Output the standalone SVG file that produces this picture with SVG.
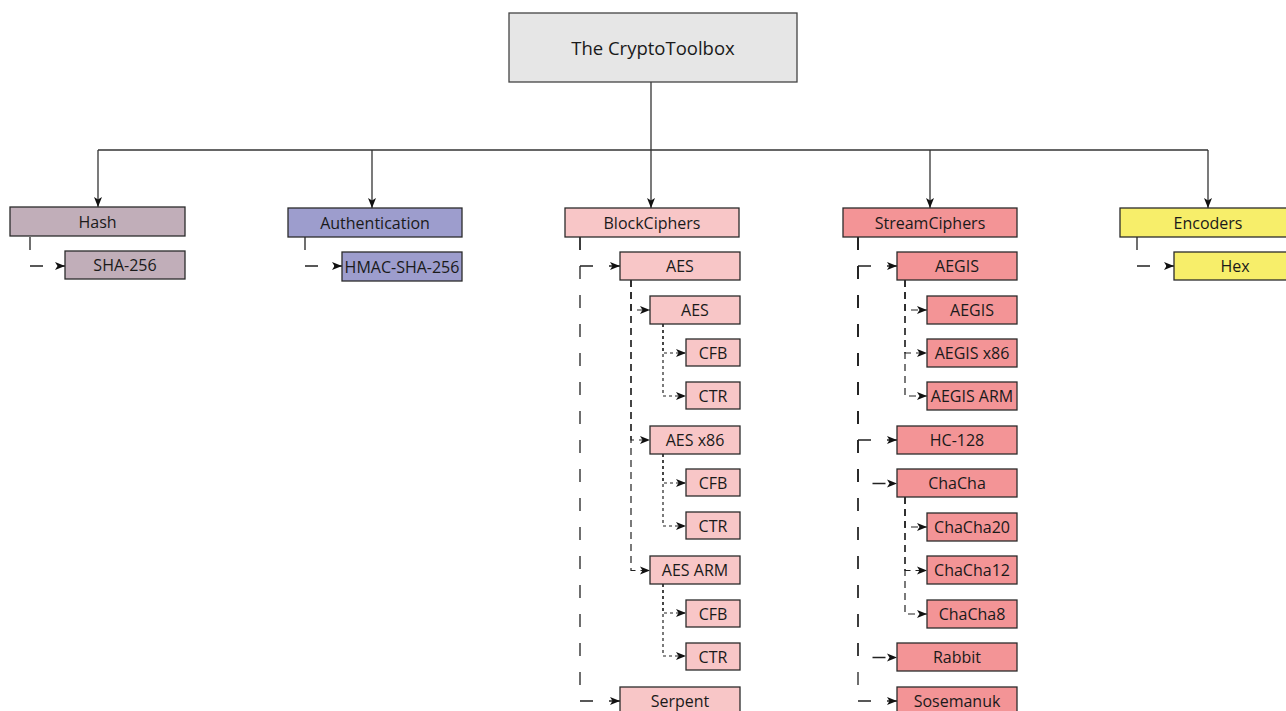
<svg xmlns="http://www.w3.org/2000/svg" width="1286" height="711" viewBox="0 0 1286 711">
<style>
rect{stroke:#2b2b2b;stroke-width:1.3}
text{font-family:"Open Sans","Liberation Sans",sans-serif;font-size:16px;fill:#1a1a1a;text-anchor:middle;dominant-baseline:central}
.root{fill:#e6e6e6;stroke:#444}
.hash{fill:#c1aeb9}
.auth{fill:#9d9dcd}
.blk{fill:#f8c6c7}
.str{fill:#f39496}
.enc{fill:#f7ee6a}
.top{fill:none;stroke:#333;stroke-width:1.3}
.l1{fill:none;stroke:#222;stroke-width:1.3;stroke-dasharray:13 16}
.l2{fill:none;stroke:#222;stroke-width:1.2;stroke-dasharray:7 5}
.l3{fill:none;stroke:#222;stroke-width:1.2;stroke-dasharray:3 3}
</style>
<defs>
<marker id="arr" markerUnits="userSpaceOnUse" markerWidth="12" markerHeight="10" viewBox="0 0 12 10" refX="11" refY="5" orient="auto">
<path d="M1,1 L11,5 L1,9 L3.5,5 Z" fill="#111"/>
</marker>
</defs>
<g id="connectors">
<path class="top" d="M651,82 V150"/>
<path class="top" d="M98,150 H1208"/>
<path class="top" d="M98,150 V207" marker-end="url(#arr)"/>
<path class="top" d="M372,150 V208" marker-end="url(#arr)"/>
<path class="top" d="M651,150 V208" marker-end="url(#arr)"/>
<path class="top" d="M930,150 V208" marker-end="url(#arr)"/>
<path class="top" d="M1208,150 V208" marker-end="url(#arr)"/>
<path class="l1" d="M30,237 V266 H65" marker-end="url(#arr)"/>
<path class="l1" d="M305,237 V266 H342" marker-end="url(#arr)"/>
<path class="l1" d="M1137,237 V266 H1174" marker-end="url(#arr)"/>
<path class="l1" d="M580,237 V266 H620" marker-end="url(#arr)"/>
<path class="l1" d="M580,237 V701 H620" marker-end="url(#arr)"/>
<path class="l2" d="M631,280 V310 H650" marker-end="url(#arr)"/>
<path class="l2" d="M631,280 V440 H650" marker-end="url(#arr)"/>
<path class="l2" d="M631,280 V570.5 H650" marker-end="url(#arr)"/>
<path class="l3" d="M663,324 V353 H686" marker-end="url(#arr)"/>
<path class="l3" d="M663,324 V396 H686" marker-end="url(#arr)"/>
<path class="l3" d="M663,454 V483 H686" marker-end="url(#arr)"/>
<path class="l3" d="M663,454 V526 H686" marker-end="url(#arr)"/>
<path class="l3" d="M663,584 V613 H686" marker-end="url(#arr)"/>
<path class="l3" d="M663,584 V656 H686" marker-end="url(#arr)"/>
<path class="l1" d="M858,237 V266 H897" marker-end="url(#arr)"/>
<path class="l1" d="M858,237 V440 H897" marker-end="url(#arr)"/>
<path class="l1" d="M858,237 V483.5 H897" marker-end="url(#arr)"/>
<path class="l1" d="M858,237 V657.5 H897" marker-end="url(#arr)"/>
<path class="l1" d="M858,237 V701 H897" marker-end="url(#arr)"/>
<path class="l2" d="M905,280 V310 H927" marker-end="url(#arr)"/>
<path class="l2" d="M905,280 V353 H927" marker-end="url(#arr)"/>
<path class="l2" d="M905,280 V396 H927" marker-end="url(#arr)"/>
<path class="l2" d="M905,497 V527 H927" marker-end="url(#arr)"/>
<path class="l2" d="M905,497 V570.5 H927" marker-end="url(#arr)"/>
<path class="l2" d="M905,497 V614 H927" marker-end="url(#arr)"/>
</g>
<g id="root"><rect class="root" x="509" y="13" width="288" height="69"/><text x="653" y="47" style="font-size:18.5px">The CryptoToolbox</text></g>
<g id="hash"><rect class="hash" x="10" y="207" width="175" height="29"/><text x="97.5" y="221.5">Hash</text></g>
<g id="sha256"><rect class="hash" x="65" y="251" width="120" height="28"/><text x="125" y="265">SHA-256</text></g>
<g id="auth"><rect class="auth" x="288" y="208" width="174" height="29"/><text x="375" y="222.5">Authentication</text></g>
<g id="hmac"><rect class="auth" x="342" y="252" width="120" height="29"/><text x="402" y="266.5">HMAC-SHA-256</text></g>
<g id="block"><rect class="blk" x="565" y="208" width="174" height="29"/><text x="652" y="222.5">BlockCiphers</text></g>
<g id="aes"><rect class="blk" x="620" y="252" width="120" height="28"/><text x="680" y="266">AES</text></g>
<g id="aes-gen"><rect class="blk" x="650" y="296" width="90" height="28"/><text x="695" y="310">AES</text></g>
<g id="aes-gen-cfb"><rect class="blk" x="686" y="339" width="54" height="27"/><text x="713" y="352.5">CFB</text></g>
<g id="aes-gen-ctr"><rect class="blk" x="686" y="382" width="54" height="27"/><text x="713" y="395.5">CTR</text></g>
<g id="aes-x86"><rect class="blk" x="650" y="426" width="90" height="28"/><text x="695" y="440">AES x86</text></g>
<g id="aes-x86-cfb"><rect class="blk" x="686" y="469" width="54" height="27"/><text x="713" y="482.5">CFB</text></g>
<g id="aes-x86-ctr"><rect class="blk" x="686" y="512" width="54" height="27"/><text x="713" y="525.5">CTR</text></g>
<g id="aes-arm"><rect class="blk" x="650" y="556" width="90" height="28"/><text x="695" y="570">AES ARM</text></g>
<g id="aes-arm-cfb"><rect class="blk" x="686" y="600" width="54" height="27"/><text x="713" y="613.5">CFB</text></g>
<g id="aes-arm-ctr"><rect class="blk" x="686" y="643" width="54" height="27"/><text x="713" y="656.5">CTR</text></g>
<g id="serpent"><rect class="blk" x="620" y="687" width="120" height="28"/><text x="680" y="701">Serpent</text></g>
<g id="stream"><rect class="str" x="843" y="208" width="174" height="29"/><text x="930" y="222.5">StreamCiphers</text></g>
<g id="aegis"><rect class="str" x="897" y="252" width="120" height="28"/><text x="957" y="266">AEGIS</text></g>
<g id="aegis-gen"><rect class="str" x="927" y="296" width="90" height="28"/><text x="972" y="310">AEGIS</text></g>
<g id="aegis-x86"><rect class="str" x="927" y="339" width="90" height="28"/><text x="972" y="353">AEGIS x86</text></g>
<g id="aegis-arm"><rect class="str" x="927" y="382" width="90" height="28"/><text x="972" y="396">AEGIS ARM</text></g>
<g id="hc128"><rect class="str" x="897" y="426" width="120" height="28"/><text x="957" y="440">HC-128</text></g>
<g id="chacha"><rect class="str" x="897" y="469" width="120" height="28"/><text x="957" y="483">ChaCha</text></g>
<g id="chacha20"><rect class="str" x="927" y="513" width="90" height="28"/><text x="972" y="527">ChaCha20</text></g>
<g id="chacha12"><rect class="str" x="927" y="556" width="90" height="28"/><text x="972" y="570">ChaCha12</text></g>
<g id="chacha8"><rect class="str" x="927" y="600" width="90" height="28"/><text x="972" y="614">ChaCha8</text></g>
<g id="rabbit"><rect class="str" x="897" y="643" width="120" height="28"/><text x="957" y="657">Rabbit</text></g>
<g id="sosemanuk"><rect class="str" x="897" y="687" width="120" height="28"/><text x="957" y="701">Sosemanuk</text></g>
<g id="encoders"><rect class="enc" x="1120" y="208" width="176" height="29"/><text x="1208" y="222.5">Encoders</text></g>
<g id="hex"><rect class="enc" x="1174" y="252" width="122" height="28"/><text x="1235" y="266">Hex</text></g>
</svg>
